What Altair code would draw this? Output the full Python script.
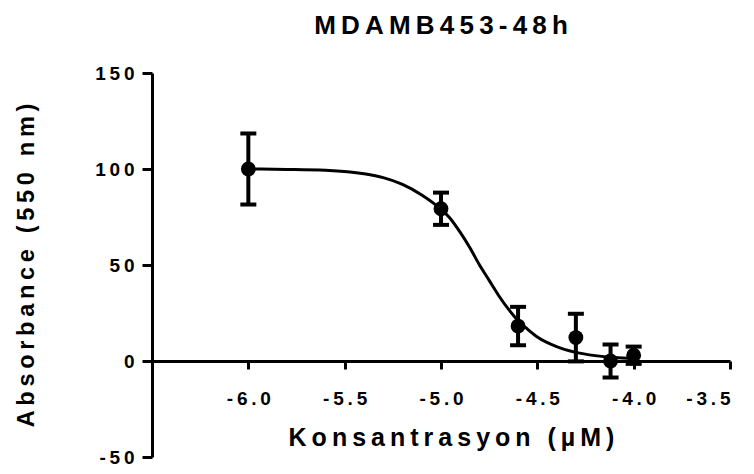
import altair as alt
import pandas as pd

# Measured data (log molar concentration vs absorbance, mean +/- error)
log_conc = [-6.0, -5.0, -4.6, -4.3, -4.12, -4.0]
absorb = [100.0, 79.3, 18.2, 12.2, 0.0, 3.0]
err = [18.5, 8.4, 10.0, 12.4, 8.6, 4.5]

# Fitted curve
curve_x = [-6.0, -5.8, -5.6, -5.4, -5.3, -5.2, -5.1, -5.0, -4.95, -4.9, -4.85,
           -4.8, -4.75, -4.7, -4.65, -4.6, -4.55, -4.5, -4.4, -4.3, -4.2, -4.1, -4.0]
curve_y = [100.0, 99.8, 99.3, 97.5, 95.5, 92.0, 86.5, 79.0, 74.0, 67.0, 59.0,
           50.0, 42.0, 34.0, 27.0, 21.0, 16.5, 12.5, 7.5, 4.5, 2.8, 1.8, 1.3]

x_ticks = [-6.0, -5.5, -5.0, -4.5, -4.0, -3.5]
y_ticks = [-50, 0, 50, 100, 150]

TS = "\u2009"
chart_title = TS.join("MDAMB453-48h")
x_title = TS.join("Konsantrasyon (µM)")
y_title = TS.join("Absorbance (550 nm)")

pts = pd.DataFrame({
    "x": log_conc,
    "y": absorb,
    "lo": [a - e for a, e in zip(absorb, err)],
    "hi": [a + e for a, e in zip(absorb, err)],
})
curve = pd.DataFrame({"x": curve_x, "y": curve_y})

FONT = "Liberation Sans"
xscale = alt.Scale(domain=[-6.5, -3.5], nice=False, zero=False)
yscale = alt.Scale(domain=[-50, 150], nice=False, zero=False)

xaxis = alt.Axis(
    values=x_ticks,
    labelExpr="join(split(replace(format(datum.value, '.1f'), '\u2212', '-'), ''), '\u2009')",
    offset=-96,
    tickSize=8,
    labelPadding=20,
    title=x_title,
    titlePadding=17,
    titleFontSize=25,
    titleX=299,
)
yaxis = alt.Axis(
    values=y_ticks,
    labelExpr="join(split(replace(datum.label, '\u2212', '-'), ''), '\u2009')",
    tickSize=10,
    labelPadding=8,
    title=y_title,
    titlePadding=56,
)


def X(field="x"):
    return alt.X(f"{field}:Q", scale=xscale, axis=xaxis)


def Y(field):
    return alt.Y(f"{field}:Q", scale=yscale, axis=yaxis)


line = alt.Chart(curve).mark_line(color="black", strokeWidth=3, interpolate="monotone").encode(
    x=X(), y=Y("y")
)
bars = alt.Chart(pts).mark_rule(color="black", strokeWidth=4).encode(
    x=X(), y=Y("lo"), y2="hi:Q"
)
cap_lo = alt.Chart(pts).mark_tick(color="black", orient="horizontal", size=16, thickness=4, opacity=1).encode(
    x=X(), y=Y("lo")
)
cap_hi = alt.Chart(pts).mark_tick(color="black", orient="horizontal", size=16, thickness=4, opacity=1).encode(
    x=X(), y=Y("hi")
)
dots = alt.Chart(pts).mark_circle(color="black", size=220, opacity=1).encode(
    x=X(), y=Y("y")
)

chart = (
    alt.layer(line, bars, cap_lo, cap_hi, dots)
    .properties(
        width=578,
        height=384,
        title=alt.TitleParams(chart_title, anchor="middle", offset=25),
        padding={"left": 144, "top": 65, "right": 16, "bottom": 9},
        autosize=alt.AutoSizeParams(type="none"),
    )
    .configure_view(stroke=None)
    .configure_axis(
        grid=False,
        domainColor="black",
        domainWidth=3,
        tickColor="black",
        tickWidth=3,
        labelFont=FONT,
        labelFontSize=19,
        labelFontWeight="bold",
        labelColor="black",
        titleFont=FONT,
        titleFontSize=23.5,
        titleFontWeight="bold",
        titleColor="black",
    )
    .configure_title(font=FONT, fontSize=26, fontWeight="bold", color="black")
)

chart.save("out.html", embed_options={"renderer": "svg", "actions": False})
